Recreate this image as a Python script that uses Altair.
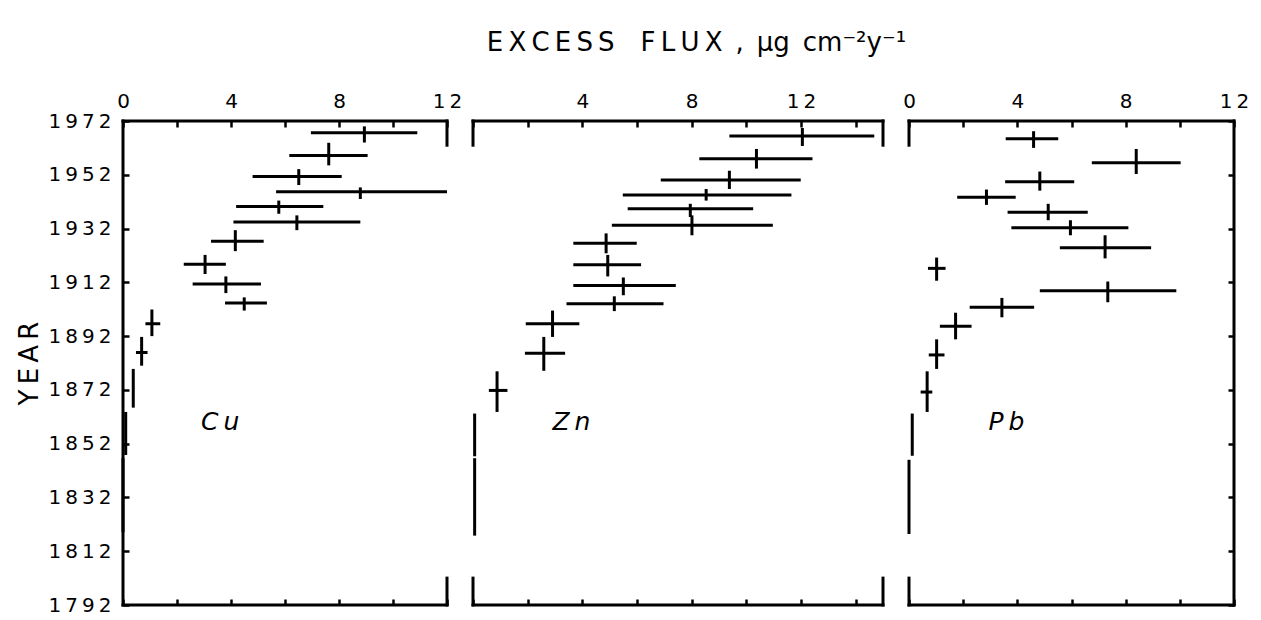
import altair as alt
import pandas as pd

# ---------------- data ----------------
cu_val  = [8.94, 7.62, 6.51, 8.79, 5.77, 6.44, 4.16, 3.04, 3.81, 4.49, 1.07, 0.69, 0.38, 0.10, 0.00]
cu_lo   = [6.96, 6.16, 4.80, 5.67, 4.19, 4.09, 3.26, 2.25, 2.58, 3.78, 0.83, 0.48, 0.38, 0.10, 0.00]
cu_hi   = [10.90, 9.06, 8.10, 12.00, 7.42, 8.79, 5.21, 3.81, 5.11, 5.33, 1.38, 0.91, 0.38, 0.10, 0.00]
cu_year = [1967.6, 1959.2, 1951.4, 1945.7, 1940.2, 1934.4, 1927.3, 1918.7, 1911.4, 1904.3, 1896.6, 1885.9, 1872.4, 1855.6, 1832.5]
cu_ylo  = [1964.0, 1955.5, 1948.2, 1943.0, 1937.5, 1931.4, 1923.6, 1915.1, 1908.0, 1901.5, 1892.0, 1881.0, 1865.4, 1847.8, 1819.0]
cu_yhi  = [1970.0, 1963.9, 1954.1, 1947.3, 1942.4, 1936.9, 1931.4, 1922.2, 1914.2, 1906.4, 1901.9, 1891.7, 1879.8, 1863.8, 1846.6]

zn_val  = [12.05, 10.37, 9.38, 8.53, 7.95, 8.01, 4.87, 4.93, 5.50, 5.17, 2.91, 2.59, 0.88, 0.06, 0.06]
zn_lo   = [9.38, 8.28, 6.87, 5.48, 5.66, 5.08, 3.67, 3.67, 3.67, 3.42, 1.93, 1.90, 0.58, 0.06, 0.06]
zn_hi   = [14.68, 12.42, 11.99, 11.65, 10.25, 10.97, 5.99, 6.15, 7.42, 6.97, 3.89, 3.37, 1.26, 0.06, 0.06]
zn_year = [1966.4, 1958.0, 1950.1, 1944.5, 1939.4, 1933.2, 1926.5, 1918.5, 1910.8, 1904.0, 1896.6, 1885.6, 1871.8, 1855.6, 1832.7]
zn_ylo  = [1962.7, 1954.3, 1946.7, 1942.4, 1936.3, 1929.5, 1922.8, 1914.2, 1907.2, 1901.3, 1891.7, 1879.1, 1863.8, 1847.3, 1817.8]
zn_yhi  = [1969.4, 1961.6, 1953.5, 1946.7, 1941.2, 1936.9, 1930.2, 1922.2, 1913.8, 1906.8, 1901.5, 1891.7, 1878.9, 1863.2, 1846.6]

pb_val  = [4.60, 8.39, 4.83, 2.86, 5.14, 5.96, 7.24, 1.02, 7.34, 3.43, 1.72, 1.02, 0.67, 0.12, 0.00]
pb_lo   = [3.57, 6.75, 3.55, 1.78, 3.64, 3.78, 5.57, 0.70, 4.83, 2.24, 1.14, 0.73, 0.43, 0.12, 0.00]
pb_hi   = [5.51, 10.03, 6.10, 3.94, 6.60, 8.10, 8.94, 1.35, 9.87, 4.62, 2.31, 1.31, 0.86, 0.12, 0.00]
pb_year = [1965.4, 1956.5, 1949.4, 1943.6, 1938.1, 1932.3, 1924.9, 1917.2, 1908.9, 1902.7, 1895.7, 1885.0, 1871.2, 1854.8, 1831.9]
pb_ylo  = [1962.0, 1952.3, 1946.1, 1940.8, 1935.1, 1929.5, 1920.9, 1912.6, 1904.6, 1899.0, 1890.8, 1879.8, 1863.8, 1847.5, 1818.4]
pb_yhi  = [1968.2, 1961.6, 1953.2, 1946.5, 1941.2, 1935.1, 1929.5, 1921.2, 1912.3, 1906.2, 1900.7, 1890.8, 1878.9, 1863.2, 1846.0]

elements   = ["Cu", "Zn", "Pb"]
x_max      = [12, 15, 12]
year_ticks = [1792, 1812, 1832, 1852, 1872, 1892, 1912, 1932, 1952, 1972]
year_min, year_max = 1792, 1972
label_x    = 3.6
label_year = 1860
bracket_top = 1963   # end of short frame brackets near the top
bracket_bot = 1802   # end of short frame brackets near the bottom

FONT = "DejaVu Sans"
SP = "\u2009"
GAP = "\u2003"
spaced = lambda s: SP.join(list(s))

TITLE = spaced("EXCESS") + GAP + spaced("FLUX") + "\u2002,\u2002μg\u2002cm⁻²y⁻¹"
SPACE_EXPR = "join(split(datum.label, ''), '\u2009')"


def h_edges(xm):
    return pd.DataFrame({"x": [0, 0], "x2": [xm, xm], "y": [year_max, year_min]})


def v_edges(xm, left_full, right_full):
    rows = []
    if left_full:
        rows.append((0, year_min, year_max))
    else:
        rows += [(0, bracket_top, year_max), (0, year_min, bracket_bot)]
    if right_full:
        rows.append((xm, year_min, year_max))
    else:
        rows += [(xm, bracket_top, year_max), (xm, year_min, bracket_bot)]
    return pd.DataFrame(rows, columns=["x", "y", "y2"])


def panel(name, val, lo, hi, yr, ylo, yhi, xm, width, left_axis, right_axis, show_zero):
    df = pd.DataFrame({"v": val, "lo": lo, "hi": hi, "yr": yr, "ylo": ylo, "yhi": yhi})
    xs = alt.Scale(domain=[0, xm], nice=False, zero=False)
    ys = alt.Scale(domain=[year_min, year_max], nice=False, zero=False)
    inner_ticks = list(range(0, xm + 1, 2))
    cond = "datum.value % 4 == 0" if show_zero else "datum.value % 4 == 0 && datum.value > 0"
    lab_expr = f"{cond} ? {SPACE_EXPR} : ''"
    top_axis = alt.Axis(orient="top", values=inner_ticks, labelExpr=lab_expr, offset=-6,
                        tickSize=6, tickWidth=2.5, tickColor="black", domain=False, grid=False,
                        labelFont=FONT, labelFontSize=20, labelColor="black", labelPadding=10,
                        labelFlush=False, title=None)
    bot_axis = alt.Axis(orient="bottom", values=inner_ticks, labels=False, offset=-6,
                        tickSize=6, tickWidth=2.5, tickColor="black", domain=False, grid=False,
                        title=None)
    if left_axis:
        y_axis = alt.Axis(orient="left", values=year_ticks, format="d", offset=-6, tickSize=6,
                          tickWidth=2.5, tickColor="black", domain=False, grid=False,
                          labelExpr=SPACE_EXPR,
                          labelFont=FONT, labelFontSize=20, labelColor="black", labelPadding=12,
                          labelFlush=False,
                          title=spaced("YEAR"), titleFont=FONT, titleFontSize=26,
                          titleFontWeight="normal", titleColor="black", titlePadding=6)
    else:
        y_axis = None
    if right_axis:
        y_axis2 = alt.Axis(orient="right", values=year_ticks, offset=-6, tickSize=6, tickWidth=2.5,
                           tickColor="black", domain=False, grid=False, labels=False, title=None)
    else:
        y_axis2 = None

    hbars = alt.Chart(df).mark_rule(color="black", strokeWidth=3).encode(
        x=alt.X("lo:Q", scale=xs, axis=top_axis),
        x2="hi:Q",
        y=alt.Y("yr:Q", scale=ys, axis=y_axis),
    )
    vbars = alt.Chart(df).mark_rule(color="black", strokeWidth=3).encode(
        x=alt.X("v:Q", scale=xs, axis=bot_axis),
        y=alt.Y("ylo:Q", scale=ys, axis=y_axis2),
        y2="yhi:Q",
    )
    hframe = alt.Chart(h_edges(xm)).mark_rule(color="black", strokeWidth=3, strokeCap="square").encode(
        x=alt.X("x:Q", scale=xs, axis=None),
        x2="x2:Q",
        y=alt.Y("y:Q", scale=ys, axis=None),
    )
    vframe = alt.Chart(v_edges(xm, left_axis, right_axis)).mark_rule(
        color="black", strokeWidth=3, strokeCap="square").encode(
        x=alt.X("x:Q", scale=xs, axis=None),
        y=alt.Y("y:Q", scale=ys, axis=None),
        y2="y2:Q",
    )
    lab = alt.Chart(pd.DataFrame({"x": [label_x], "y": [label_year], "t": [spaced(name)]})).mark_text(
        font=FONT, fontSize=25, fontStyle="italic", color="black", align="center", baseline="middle"
    ).encode(
        x=alt.X("x:Q", scale=xs, axis=None),
        y=alt.Y("y:Q", scale=ys, axis=None),
        text="t:N",
    )
    return alt.layer(hbars, vbars, hframe, vframe, lab).resolve_axis(
        x="independent", y="independent").properties(width=width, height=484)


cu = panel("Cu", cu_val, cu_lo, cu_hi, cu_year, cu_ylo, cu_yhi, x_max[0], 324, True, False, True)
zn = panel("Zn", zn_val, zn_lo, zn_hi, zn_year, zn_ylo, zn_yhi, x_max[1], 410, False, False, False)
pb = panel("Pb", pb_val, pb_lo, pb_hi, pb_year, pb_ylo, pb_yhi, x_max[2], 325, False, True, True)

chart = alt.hconcat(cu, zn, pb, spacing=26, bounds="flush").properties(
    title=alt.TitleParams(TITLE, font=FONT, fontSize=26, fontWeight="normal", color="black",
                          anchor="middle", dx=64, offset=35),
    padding={"left": 8, "top": 22, "right": 2, "bottom": 5},
    background="white",
).configure_view(stroke=None, strokeWidth=0)

chart.save("out.html", embed_options={"renderer": "svg", "actions": False})
